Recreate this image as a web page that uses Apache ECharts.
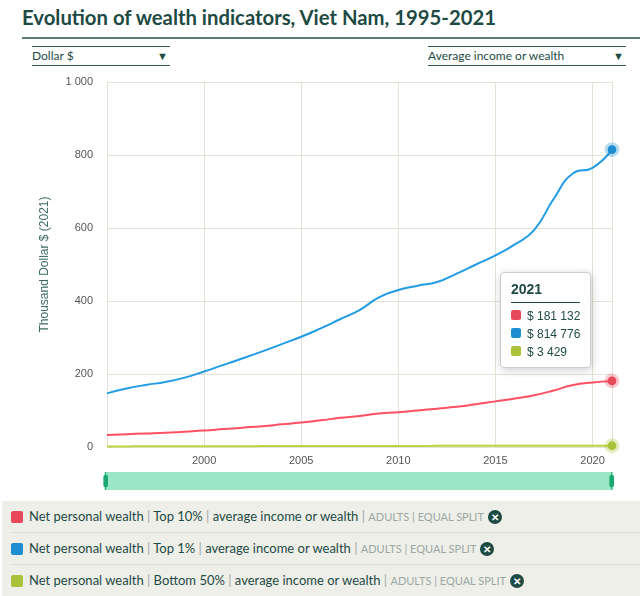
<!DOCTYPE html>
<html><head><meta charset="utf-8">
<script src="https://cdn.jsdelivr.net/npm/echarts@6/dist/echarts.min.js"></script>
<style>
body{margin:0;width:640px;height:596px;font-family:Lato,"Open Sans",sans-serif;background:#fff;position:relative;overflow:hidden}
h1{position:absolute;left:22px;top:5px;margin:0;font-size:20.3px;color:#1e4a44;font-weight:700}
.rule{position:absolute;left:22px;right:0;top:37px;border-top:2px solid #5d7a75}
.dd{position:absolute;top:46px;height:18px;border-top:1px solid #2d5a53;border-bottom:1px solid #2d5a53;font-size:12px;color:#1e4a44;line-height:18px}
.dd span{position:absolute;right:2px;font-size:11px}
#chart{position:absolute;left:0;top:60px;width:640px;height:440px}
.leg{position:absolute;left:2px;right:0;top:501px;height:95px;background:#efefea}
.row{height:31px;border-bottom:1px solid #dcdcd6;margin:0 0 0 9px;font-size:13px;color:#1e4a44;line-height:31px;display:flex;align-items:center}
.sq{width:12px;height:12px;border-radius:2px;margin-right:6px}
.s{color:#9aa8a4}
.g{color:#9aa8a4;font-size:11px}
.x{display:inline-block;width:14px;height:14px;border-radius:7px;background:#1e4a44;color:#fff;font-size:10px;line-height:14px;text-align:center;margin-left:4px;font-weight:700}
</style></head><body>
<h1>Evolution of wealth indicators, Viet Nam, 1995-2021</h1>
<div class="rule"></div>
<div class="dd" style="left:32px;width:138px">Dollar $<span>▼</span></div>
<div class="dd" style="left:428px;width:198px">Average income or wealth<span>▼</span></div>
<div id="chart"></div>
<div class="leg">
<div class="row"><div class="sq" style="background:#e8495a"></div>Net personal wealth&nbsp;<span class="s">|</span>&nbsp;Top 10%&nbsp;<span class="s">|</span>&nbsp;average income or wealth&nbsp;<span class="s">|</span>&nbsp;<span class="g">ADULTS | EQUAL SPLIT</span><span class="x">✕</span></div>
<div class="row"><div class="sq" style="background:#1f8ed0"></div>Net personal wealth&nbsp;<span class="s">|</span>&nbsp;Top 1%&nbsp;<span class="s">|</span>&nbsp;average income or wealth&nbsp;<span class="s">|</span>&nbsp;<span class="g">ADULTS | EQUAL SPLIT</span><span class="x">✕</span></div>
<div class="row" style="border:none"><div class="sq" style="background:#a9c23a"></div>Net personal wealth&nbsp;<span class="s">|</span>&nbsp;Bottom 50%&nbsp;<span class="s">|</span>&nbsp;average income or wealth&nbsp;<span class="s">|</span>&nbsp;<span class="g">ADULTS | EQUAL SPLIT</span><span class="x">✕</span></div>
</div>
<script>
const years = [];
for (let y = 1995; y <= 2021; y++) years.push(String(y));
const top10 = [33,35,37,39,42,45,49,53,57,62,67,73,80,85,92,95,100,105,110,117,125,133,142,155,170,177,181.132];
const top1 = [147,160,170,178,190,207,225,243,262,282,302,325,350,375,410,430,442,452,475,500,525,555,595,680,750,765,814.776];
const bottom50 = [1.6,1.7,1.8,1.9,2.0,2.1,2.2,2.3,2.4,2.5,2.6,2.7,2.8,2.9,2.9,3.0,3.0,3.1,3.1,3.2,3.2,3.3,3.3,3.3,3.4,3.4,3.429];
const names = ['Top 10%', 'Top 1%', 'Bottom 50%'];
const colors = ['#e8495a', '#1f8ed0', '#a9c23a'];
const halos = ['rgba(232,73,90,0.3)', 'rgba(31,142,208,0.3)', 'rgba(169,194,58,0.3)'];

const mk = (arr, i) => ({
  name: names[i], type: 'line', smooth: true, showSymbol: false,
  lineStyle: { color: colors[i], width: 2 }, itemStyle: { color: colors[i] },
  data: arr.map((v, k) => k === arr.length - 1
    ? { value: v, symbol: 'circle', symbolSize: 8, itemStyle: { color: colors[i], borderColor: halos[i], borderWidth: 6 } }
    : v),
  symbol: 'none'
});
const chart = echarts.init(document.getElementById('chart'));
const fmt = v => v.toFixed(0).replace(/\B(?=(\d{3})+(?!\d))/g, ' ');
chart.setOption({
  animation: false,
  grid: { left: 107, right: 28, top: 22, bottom: 53 },
  tooltip: {
    trigger: 'axis', alwaysShowContent: true, position: [500, 212],
    axisPointer: { type: 'none' },
    backgroundColor: '#fff', borderColor: '#ccc', padding: [6, 10],
    formatter: ps => '<div style="font-weight:700;color:#1e4a44;font-size:14px;border-bottom:1px solid #1e4a44;padding-bottom:2px;margin-bottom:4px">' + ps[0].axisValue + '</div>' +
      ps.map(p => '<div style="color:#1e4a44;font-size:12px;line-height:18px"><span style="display:inline-block;width:10px;height:10px;border-radius:2px;background:' + p.color + ';margin-right:6px"></span>$ ' + fmt(p.value * 1000) + '</div>').join('')
  },
  xAxis: {
    type: 'category', data: years, boundaryGap: false,
    axisLine: { show: false }, axisTick: { show: false },
    axisLabel: { color: '#555', fontSize: 11, interval: i => (+years[i]) % 5 === 0 && years[i] !== '1995' },
    splitLine: { show: true, interval: i => (+years[i]) % 5 === 0 || i === years.length - 1, lineStyle: { color: '#e4e2d6' } }
  },
  yAxis: {
    type: 'value', min: 0, max: 1000, interval: 200,
    name: 'Thousand Dollar $ (2021)', nameLocation: 'middle', nameGap: 56,
    nameTextStyle: { color: '#3d6b64', fontSize: 12 },
    axisLabel: { color: '#555', fontSize: 11, margin: 14, formatter: v => v === 1000 ? '1 000' : v },
    splitLine: { lineStyle: { color: '#e4e2d6' } }
  },
  dataZoom: [{ type: 'slider', left: 104, right: 28, bottom: 10, height: 18, backgroundColor: '#9be6c4',
    fillerColor: '#9be6c4', borderColor: '#9be6c4', showDetail: false, showDataShadow: false,
    handleStyle: { color: '#1aa870', borderColor: '#1aa870' }, moveHandleSize: 0 }],
  series: [mk(top10, 0), mk(top1, 1), mk(bottom50, 2)]
});
chart.dispatchAction({ type: 'showTip', seriesIndex: 0, dataIndex: 26 });
</script>
</body></html>
